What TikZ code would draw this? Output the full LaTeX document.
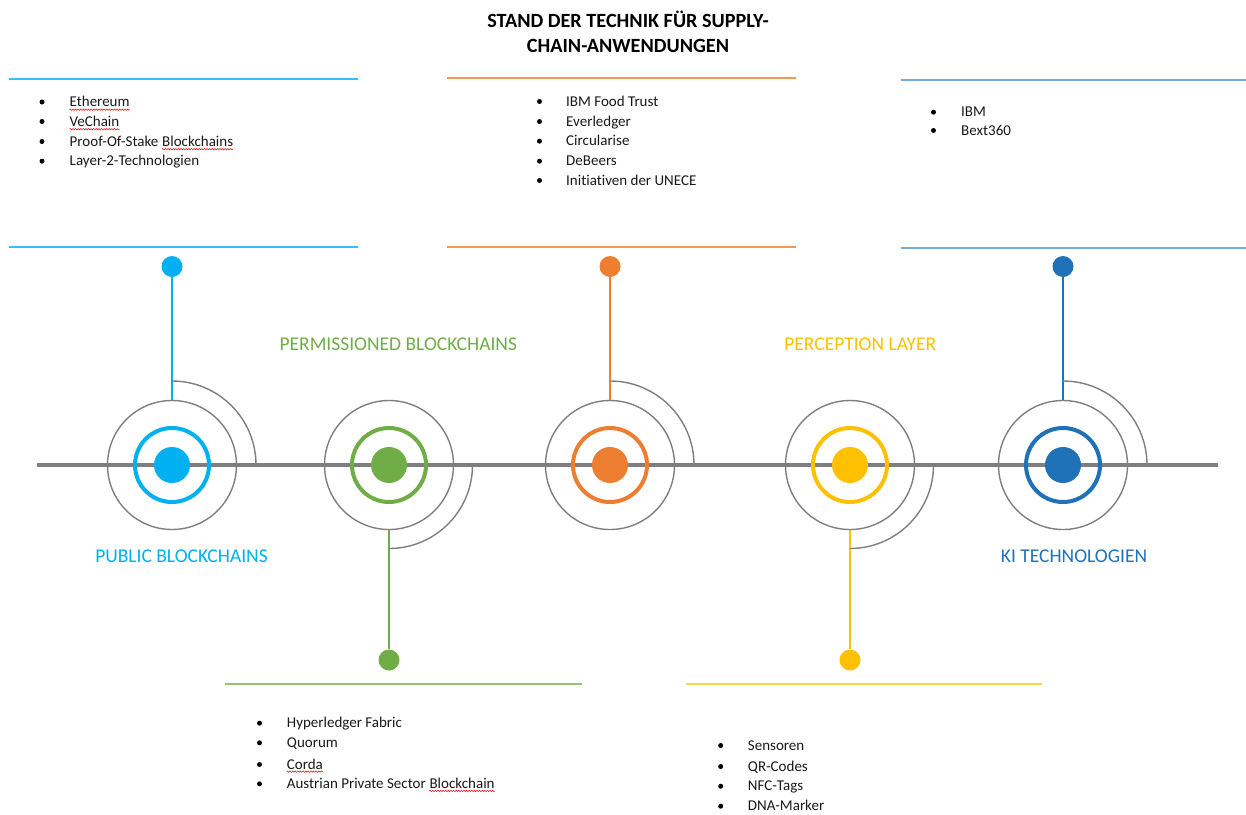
\documentclass[tikz,border=0pt]{standalone}
\usepackage{fontspec}
\setmainfont{Carlito}[Ligatures=NoCommon]
\usetikzlibrary{decorations.pathmorphing}
\definecolor{cA}{HTML}{00B0F0}
\definecolor{cB}{HTML}{70AD47}
\definecolor{cC}{HTML}{ED7D31}
\definecolor{cD}{HTML}{FFC000}
\definecolor{cE}{HTML}{1F72B8}
\definecolor{lgray}{HTML}{7F7F7F}
\tikzset{
  outerc/.style={circle,draw=lgray,line width=1.4pt,minimum size=129pt,inner sep=0pt},
  ringc/.style={circle,draw=#1,line width=4pt,minimum size=74pt,inner sep=0pt},
  dotc/.style={circle,fill=#1,minimum size=36pt,inner sep=0pt},
  pin/.style={circle,fill=#1,minimum size=21pt,inner sep=0pt},
  conn/.style={draw=#1,line width=1.3pt},
  arcline/.style={draw=lgray,line width=1.4pt},
  mainline/.style={draw=lgray,line width=3.3pt},
  sepline/.style={draw=#1,line width=1.2pt},
  bul/.style={circle,fill=black,minimum size=5pt,inner sep=0pt},
  item/.style={anchor=base west,inner sep=0pt,font=\fontsize{15}{18}\selectfont,text=black!90},
  lab/.style={anchor=base,inner sep=0pt,font=\fontsize{19.5}{22}\selectfont,text=#1},
  ttl/.style={anchor=base,inner sep=0pt,font=\fontsize{20.2}{24}\selectfont\bfseries},
  squig/.style={draw=red,line width=0.5pt,decorate,decoration={snake,amplitude=0.7pt,segment length=2.6pt}}
}
\begin{document}
\begin{tikzpicture}[x=1pt,y=1pt]
\useasboundingbox (0,0) rectangle (1246,-814);
% title
\node[ttl] (title1) at (628,-27.3) {STAND DER TECHNIK FÜR SUPPLY-};
\node[ttl] (title2) at (628,-52.3) {CHAIN-ANWENDUNGEN};
% separators
\draw[sepline=cA!80] (9,-79) -- (358,-79);
\draw[sepline=cA!80] (9,-247) -- (358,-247);
\draw[sepline=cC!80] (447,-78) -- (796,-78);
\draw[sepline=cC!80] (447,-247) -- (796,-247);
\draw[sepline=cE!60] (901,-80) -- (1246,-80);
\draw[sepline=cE!60] (901,-248) -- (1246,-248);
\draw[sepline=cB!75] (225,-684) -- (582,-684);
\draw[sepline=cD!70] (686,-684) -- (1042,-684);
% main line
\coordinate (L) at (37,-465);
\coordinate (R) at (1218,-465);
\draw[mainline] (L) -- (R);
% milestones
\foreach \i/\x/\c in {1/172/cA,2/389/cB,3/610/cC,4/850/cD,5/1063/cE}{
  \node[outerc] (o\i) at (\x,-465) {};
  \node[ringc=\c] (r\i) at (\x,-465) {};
  \node[dotc=\c] (d\i) at (\x,-465) {};
}
% upper pins
\foreach \i/\x/\c in {1/172/cA,3/610/cC,5/1063/cE}{
  \node[pin=\c] (p\i) at (\x,-266.5) {};
  \draw[conn=\c] (p\i) -- (o\i);
  \draw[arcline] ([yshift=84pt]o\i.center) arc[start angle=90,end angle=0,radius=84pt];
}
% lower pins
\foreach \i/\x/\c in {2/389/cB,4/850/cD}{
  \node[pin=\c] (p\i) at (\x,-660) {};
  \draw[conn=\c] (o\i) -- (p\i);
  \draw[arcline] ([xshift=83.5pt]o\i.center) arc[start angle=0,end angle=-90,radius=83.5pt];
}
% labels
\node[lab=cA] (labA) at (181.5,-562.3) {PUBLIC BLOCKCHAINS};
\node[lab=cB] (labB) at (398.3,-350) {PERMISSIONED BLOCKCHAINS};
\node[lab=cD] (labD) at (860.3,-350) {PERCEPTION LAYER};
\node[lab=cE] (labE) at (1074,-562.3) {KI TECHNOLOGIEN};
% list top-left
\node[bul] (b11) at (42,-102) {};
\node[bul] (b12) at (42,-121.5) {};
\node[bul] (b13) at (42,-141.5) {};
\node[bul] (b14) at (42,-161.2) {};
\node[item] (t11) at (69.5,-106.5) {Ethereum};
\node[item] (t12) at (69.5,-126) {VeChain};
\node[item] (t13a) at (69.5,-146) {Proof-Of-Stake};
\node[item] (t13b) at ([xshift=3.4pt]t13a.base east) {Blockchains};
\node[item] (t14) at (69.5,-165.7) {Layer-2-Technologien};
\draw[squig] ([yshift=-3.2pt]t11.base west) -- ([yshift=-3.2pt]t11.base east);
\draw[squig] ([yshift=-3.2pt]t12.base west) -- ([yshift=-3.2pt]t12.base east);
\draw[squig] ([yshift=-3.2pt]t13b.base west) -- ([yshift=-3.2pt]t13b.base east);
% list top-middle
\node[bul] (b21) at (539.5,-101.5) {};
\node[bul] (b22) at (539.5,-121.5) {};
\node[bul] (b23) at (539.5,-141.2) {};
\node[bul] (b24) at (539.5,-161.2) {};
\node[bul] (b25) at (539.5,-180.5) {};
\node[item] (t21) at (566,-106) {IBM Food Trust};
\node[item] (t22) at (566,-126) {Everledger};
\node[item] (t23) at (566,-145.7) {Circularise};
\node[item] (t24) at (566,-165.7) {DeBeers};
\node[item] (t25) at (566,-185) {Initiativen der UNECE};
% list top-right
\node[bul] (b31) at (933.5,-112.2) {};
\node[bul] (b32) at (933.5,-130.5) {};
\node[item] (t31) at (961,-116.7) {IBM};
\node[item] (t32) at (961,-135) {Bext360};
% list bottom green
\node[bul] (b41) at (259.5,-723.2) {};
\node[bul] (b42) at (259.5,-742.8) {};
\node[bul] (b43) at (259.5,-764.5) {};
\node[bul] (b44) at (259.5,-783.8) {};
\node[item] (t41) at (286.7,-727.7) {Hyperledger Fabric};
\node[item] (t42) at (286.7,-747.3) {Quorum};
\node[item] (t43) at (286.7,-769) {Corda};
\node[item] (t44a) at (286.7,-788.3) {Austrian Private Sector};
\node[item] (t44b) at ([xshift=3.4pt]t44a.base east) {Blockchain};
\draw[squig] ([yshift=-2.6pt]t43.base west) -- ([yshift=-2.6pt]t43.base east);
\draw[squig] ([yshift=-2.6pt]t44b.base west) -- ([yshift=-2.6pt]t44b.base east);
% list bottom yellow
\node[bul] (b51) at (720.7,-745.5) {};
\node[bul] (b52) at (720.7,-766.5) {};
\node[bul] (b53) at (720.7,-786.2) {};
\node[bul] (b54) at (720.7,-806.2) {};
\node[item] (t51) at (747.7,-750) {Sensoren};
\node[item] (t52) at (747.7,-771) {QR-Codes};
\node[item] (t53) at (747.7,-790.7) {NFC-Tags};
\node[item] (t54) at (747.7,-810.7) {DNA-Marker};
\end{tikzpicture}
\end{document}
